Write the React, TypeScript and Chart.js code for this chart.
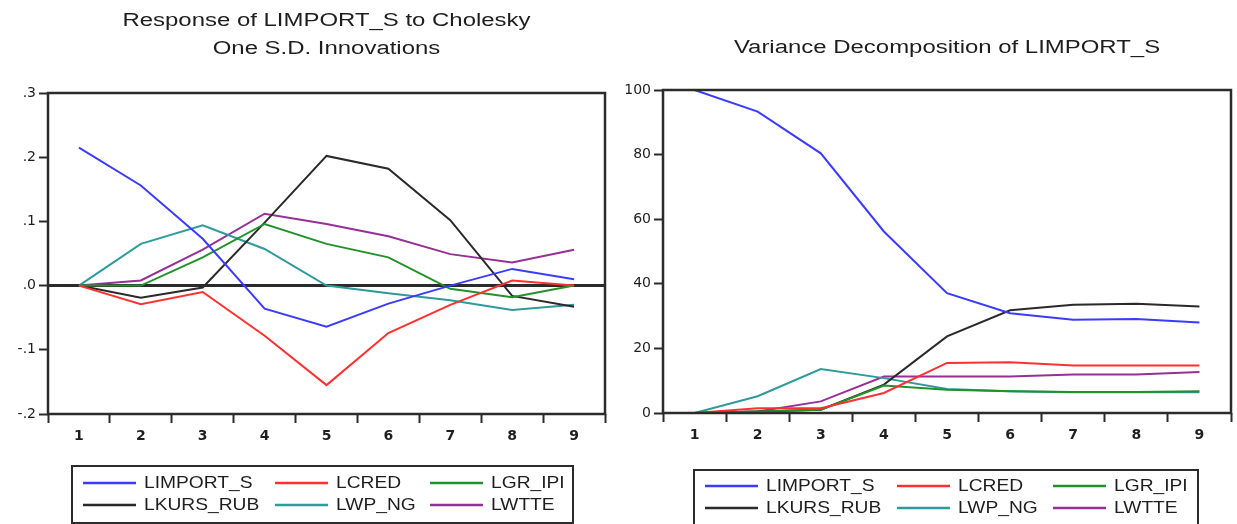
import React, { useEffect, useRef } from "react";
import { Chart, registerables } from "chart.js";

Chart.register(...registerables);

// ---------- data ----------
const periods = ["1", "2", "3", "4", "5", "6", "7", "8", "9"];
const seriesNames = ["LIMPORT_S", "LCRED", "LGR_IPI", "LKURS_RUB", "LWP_NG", "LWTTE"];
const seriesColors = ["#3b3bff", "#ff3030", "#23912b", "#2a2a2a", "#2f9a9a", "#962f96"];

// Impulse responses of LIMPORT_S (Cholesky one S.D. innovations)
const irfLIMPORT_S = [0.215, 0.156, 0.073, -0.036, -0.064, -0.028, 0.0, 0.026, 0.01];
const irfLCRED = [0, -0.029, -0.01, -0.078, -0.155, -0.074, -0.03, 0.008, 0.0];
const irfLGR_IPI = [0, 0, 0.044, 0.096, 0.065, 0.044, -0.005, -0.018, 0.0];
const irfLKURS_RUB = [0, -0.019, -0.003, 0.098, 0.202, 0.182, 0.102, -0.016, -0.033];
const irfLWP_NG = [0, 0.065, 0.094, 0.057, 0.0, -0.012, -0.023, -0.038, -0.03];
const irfLWTTE = [0, 0.008, 0.056, 0.112, 0.096, 0.077, 0.049, 0.036, 0.056];

// Variance decomposition of LIMPORT_S (percent)
const vdLIMPORT_S = [100, 93.3, 80.4, 56.2, 37.1, 30.9, 28.9, 29.1, 28.0];
const vdLCRED = [0, 1.5, 1.5, 6.2, 15.5, 15.7, 14.7, 14.7, 14.7];
const vdLGR_IPI = [0, 0.5, 1.0, 8.5, 7.2, 6.7, 6.5, 6.5, 6.7];
const vdLKURS_RUB = [0, 0.5, 1.0, 8.8, 23.7, 31.8, 33.5, 33.8, 33.0];
const vdLWP_NG = [0, 5.2, 13.6, 10.8, 7.4, 6.7, 6.4, 6.4, 6.4];
const vdLWTTE = [0, 0.5, 3.6, 11.3, 11.3, 11.3, 11.9, 11.9, 12.7];

const irfTitle = ["Response of LIMPORT_S to Cholesky", "One S.D. Innovations"];
const vdTitle = ["Variance Decomposition of LIMPORT_S"];

const irfSeries = [irfLIMPORT_S, irfLCRED, irfLGR_IPI, irfLKURS_RUB, irfLWP_NG, irfLWTTE];
const vdSeries = [vdLIMPORT_S, vdLCRED, vdLGR_IPI, vdLKURS_RUB, vdLWP_NG, vdLWTTE];

// ---------- styling helpers ----------
const INK = "#2b2b2b";
const TEXT = "#1e1e1e";

function drawStretched(ctx: CanvasRenderingContext2D, text: string, x: number, y: number, align: CanvasTextAlign, sx: number) {
  ctx.save();
  ctx.translate(x, y);
  ctx.scale(sx, 1);
  ctx.textAlign = align;
  ctx.textBaseline = "middle";
  ctx.fillText(text, 0, 0);
  ctx.restore();
}

const framePlugin = {
  id: "frame",
  afterDatasetsDraw(chart: any) {
    const { ctx, chartArea: a } = chart;
    ctx.save();
    ctx.strokeStyle = INK;
    ctx.lineWidth = 2.5;
    ctx.strokeRect(a.left, a.top, a.right - a.left, a.bottom - a.top);
    ctx.restore();
  },
  afterDraw(chart: any, _args: any, opts: any) {
    const { ctx, chartArea: a } = chart;
    ctx.save();
    // titles
    ctx.fillStyle = TEXT;
    ctx.font = '18px "Liberation Sans", Arial, sans-serif';
    const cx = (a.left + a.right) / 2;
    (opts.titles || []).forEach((t: string, i: number) => {
      drawStretched(ctx, t, cx, opts.titleY[i], "center", 1.33);
    });
    // legend
    const L = opts.legend;
    ctx.strokeStyle = INK;
    ctx.lineWidth = 2;
    ctx.strokeRect(L.x, L.y, L.w, L.h);
    ctx.font = '17px "Liberation Sans", Arial, sans-serif';
    chart.data.datasets.forEach((ds: any, i: number) => {
      const col = i % 3;
      const row = Math.floor(i / 3);
      const x0 = L.cols[col];
      const y0 = L.rows[row];
      ctx.strokeStyle = ds.borderColor;
      ctx.lineWidth = 2.5;
      ctx.beginPath();
      ctx.moveTo(x0, y0);
      ctx.lineTo(x0 + L.lineLen, y0);
      ctx.stroke();
      ctx.fillStyle = TEXT;
      drawStretched(ctx, ds.label, x0 + L.textOff, y0, "left", 1.13);
    });
    ctx.restore();
  },
};

function makeDatasets(values: number[][]) {
  return values.map((v, i) => ({
    label: seriesNames[i],
    data: v,
    borderColor: seriesColors[i],
    backgroundColor: seriesColors[i],
    borderWidth: 2,
    pointRadius: 0,
    tension: 0,
    fill: false,
  }));
}

function irfTick(v: any) {
  const n = Math.round(Number(v) * 10) / 10;
  return n.toFixed(1).replace(/^(-?)0\./, "$1.");
}

function buildOptions(cfg: any) {
  return {
    responsive: false,
    animation: false,
    devicePixelRatio: 1,
    events: [],
    layout: { padding: cfg.padding },
    plugins: {
      legend: { display: false },
      title: { display: false },
      tooltip: { enabled: false },
      frame: {
        titles: cfg.titles,
        titleY: cfg.titleY,
        legend: cfg.legend,
      },
    },
    scales: {
      x: {
        type: "category",
        offset: true,
        border: { display: false },
        grid: {
          offset: true,
          drawOnChartArea: false,
          drawTicks: true,
          tickLength: 9,
          tickColor: INK,
          tickWidth: 2,
        },
        ticks: {
          autoSkip: false,
          maxRotation: 0,
          padding: 5,
          color: TEXT,
          font: { family: '"DejaVu Sans", sans-serif', size: 14, weight: "bold" },
        },
        afterFit: (s: any) => {
          s.height = 30;
        },
      },
      y: {
        min: cfg.yMin,
        max: cfg.yMax,
        border: { display: false },
        grid: {
          drawOnChartArea: cfg.zeroLine,
          color: (c: any) => (c.tick && Math.abs(c.tick.value) < 1e-9 ? INK : "rgba(0,0,0,0)"),
          lineWidth: (c: any) => (c.tick && Math.abs(c.tick.value) < 1e-9 ? 3 : 1),
          drawTicks: true,
          tickLength: 9,
          tickColor: INK,
          tickWidth: 2,
        },
        ticks: {
          stepSize: cfg.yStep,
          padding: 3,
          color: TEXT,
          callback: cfg.tickFmt,
          font: { family: '"DejaVu Sans", sans-serif', size: 14 },
        },
        afterFit: (s: any) => {
          s.width = cfg.yWidth;
        },
      },
    },
  };
}

export default function App() {
  const leftRef = useRef<HTMLCanvasElement | null>(null);
  const rightRef = useRef<HTMLCanvasElement | null>(null);

  useEffect(() => {
    const charts: Chart[] = [];
    if (leftRef.current) {
      charts.push(
        new Chart(leftRef.current, {
          type: "line",
          data: { labels: periods, datasets: makeDatasets(irfSeries) },
          options: buildOptions({
            padding: { left: 0, right: 13, top: 93, bottom: 80 },
            titles: irfTitle,
            titleY: [21, 49],
            legend: { x: 72, y: 466, w: 501, h: 57, cols: [83, 275, 430], rows: [483, 505], lineLen: 53, textOff: 61 },
            yMin: -0.2,
            yMax: 0.3,
            yStep: 0.1,
            yWidth: 48,
            zeroLine: true,
            tickFmt: irfTick,
          }) as any,
          plugins: [framePlugin as any],
        })
      );
    }
    if (rightRef.current) {
      charts.push(
        new Chart(rightRef.current, {
          type: "line",
          data: { labels: periods, datasets: makeDatasets(vdSeries) },
          options: buildOptions({
            padding: { left: 0, right: 6, top: 90, bottom: 81 },
            titles: vdTitle,
            titleY: [48],
            legend: { x: 76, y: 470, w: 504, h: 60, cols: [87, 279, 435], rows: [486, 508], lineLen: 53, textOff: 61 },
            yMin: 0,
            yMax: 100,
            yStep: 20,
            yWidth: 45,
            zeroLine: false,
            tickFmt: (v: any) => String(Math.round(Number(v))),
          }) as any,
          plugins: [framePlugin as any],
        })
      );
    }
    return () => charts.forEach((c) => c.destroy());
  }, []);

  return (
    <div style={{ position: "fixed", left: 0, top: 0, width: 1237, height: 524, background: "#fff", overflow: "hidden" }}>
      <canvas ref={leftRef} width={618} height={524} style={{ position: "absolute", left: 0, top: 0, width: 618, height: 524 }} />
      <canvas ref={rightRef} width={619} height={524} style={{ position: "absolute", left: 618, top: 0, width: 619, height: 524 }} />
    </div>
  );
}
